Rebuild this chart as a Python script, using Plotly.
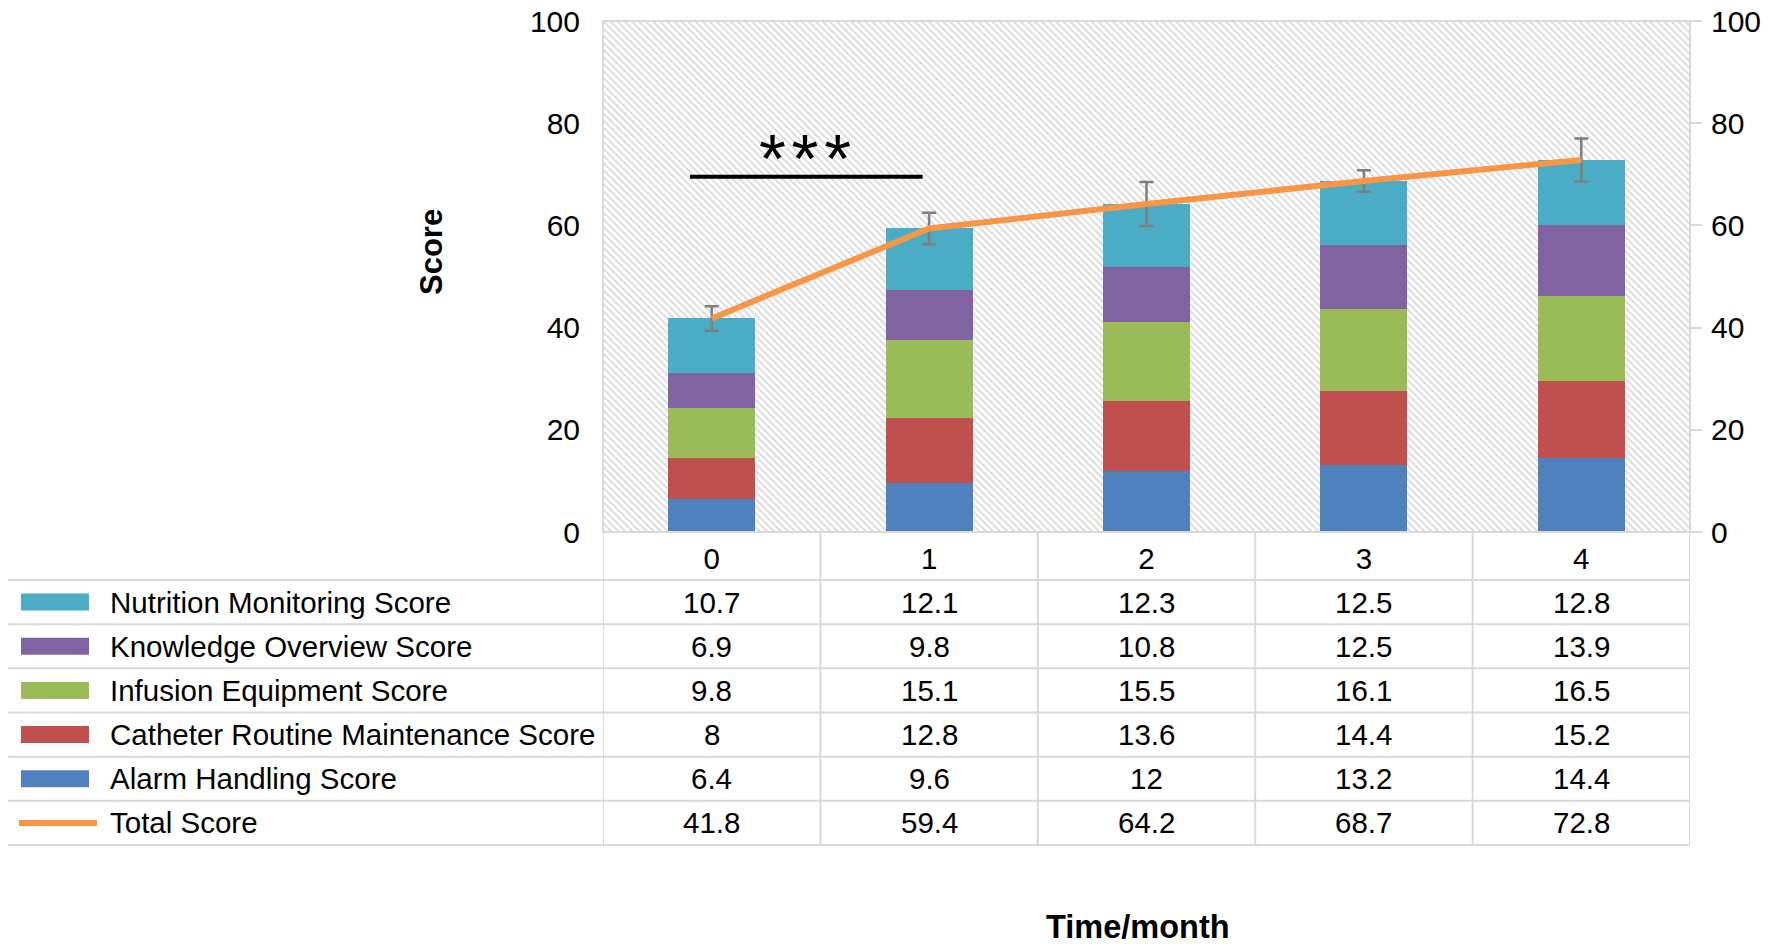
import plotly.graph_objs as go

# datos del gráfico
months = [0, 1, 2, 3, 4]
alarm = [6.4, 9.6, 12, 13.2, 14.4]
catheter = [8, 12.8, 13.6, 14.4, 15.2]
infusion = [9.8, 15.1, 15.5, 16.1, 16.5]
knowledge = [6.9, 9.8, 10.8, 12.5, 13.9]
nutrition = [10.7, 12.1, 12.3, 12.5, 12.8]
total = [41.8, 59.4, 64.2, 68.7, 72.8]
total_err = [2.4, 3.1, 4.3, 2.1, 4.2]
y_ticks = [0, 20, 40, 60, 80, 100]

# la página tiene 8 px de margen en el body: la figura cabe justo en la ventana
OFF = 8
W, H = 1772 - OFF, 944 - OFF
FONT = 'Arial, Liberation Sans, sans-serif'
GRID = '#d9d9d9'
TXT = 29.5

def px(x):
    return (x - OFF) / W

def py(y):
    return 1 - (y - OFF) / H

# series: nombre, valores, color (orden de la tabla, de arriba a abajo)
rows = [
    ('Nutrition Monitoring Score', nutrition, '#4bacc6'),
    ('Knowledge Overview Score', knowledge, '#8064a2'),
    ('Infusion Equipment Score', infusion, '#9bbb59'),
    ('Catheter Routine Maintenance Score', catheter, '#c0504d'),
    ('Alarm Handling Score', alarm, '#4f81bd'),
    ('Total Score', total, '#f79646'),
]

x_lo, x_hi = months[0] - 0.5, months[-1] + 0.5

fig = go.Figure()

# fondo rayado del área de trazado (subplot principal, debajo)
fig.add_trace(go.Scatter(
    x=[x_lo, x_hi, x_hi, x_lo, x_lo], y=[0, 0, 100, 100, 0],
    mode='none', fill='toself', fillcolor='white',
    fillpattern=dict(shape='\\', fgcolor='#b5b5b5', bgcolor='white', size=5, solidity=0.38),
    hoverinfo='skip', showlegend=False,
))

# barras apiladas (de abajo hacia arriba) en el eje superpuesto
for name, vals, color in reversed(rows[:-1]):
    fig.add_trace(go.Bar(
        x=months, y=vals, name=name, marker_color=color,
        marker_line_width=0, width=0.4, showlegend=False, yaxis='y2',
    ))

fig.add_trace(go.Scatter(
    x=months, y=total, name='Total Score', mode='lines',
    line=dict(color='#f79646', width=6),
    error_y=dict(type='data', array=total_err, color='#7f7f7f', thickness=2.5, width=7),
    yaxis='y2', showlegend=False,
))

dom_x = [px(603), px(1690)]
dom_y = [py(532), py(21)]

fig.update_layout(
    width=W, height=H, autosize=False,
    margin=dict(l=0, r=0, t=0, b=0, autoexpand=False),
    paper_bgcolor='white', plot_bgcolor='white',
    barmode='stack',
    font=dict(family=FONT, color='black'),
    xaxis=dict(
        domain=dom_x, range=[x_lo, x_hi], tickvals=months,
        ticktext=[str(m) for m in months], showgrid=False, zeroline=False,
        showline=False, ticks='', tickfont=dict(size=TXT), ticklabelstandoff=6,
    ),
    yaxis=dict(
        domain=dom_y, range=[0, 100], tickvals=y_ticks, showgrid=False,
        zeroline=False, showline=False, ticks='', tickfont=dict(size=30),
        ticklabelstandoff=22, ticklabeloverflow='allow',
    ),
    yaxis2=dict(
        overlaying='y', side='right', range=[0, 100], tickvals=y_ticks,
        showgrid=False, zeroline=False, showline=False, ticks='outside',
        ticklen=11, tickwidth=2, tickcolor=GRID, tickfont=dict(size=30),
        ticklabelstandoff=3, ticklabeloverflow='allow',
    ),
)

shapes = []
# borde del área de trazado
shapes.append(dict(type='rect', xref='x domain', yref='y domain', x0=0, x1=1, y0=0, y1=1,
                   line=dict(color=GRID, width=2), layer='above'))
# significancia
shapes.append(dict(type='line', xref='x', yref='y', x0=-0.1, x1=0.97, y0=69.5, y1=69.5,
                   line=dict(color='black', width=4)))

# tabla de datos
TABLE_TOP = 580
ROW_H = (845 - 580) / len(rows)
TABLE_L = 7
for i in range(len(rows) + 1):
    y = py(TABLE_TOP + i * ROW_H)
    shapes.append(dict(type='line', xref='paper', yref='paper', x0=px(TABLE_L), x1=dom_x[1],
                       y0=y, y1=y, line=dict(color=GRID, width=2)))
shapes.append(dict(type='line', xref='paper', yref='paper', x0=px(TABLE_L), x1=px(TABLE_L),
                   y0=py(TABLE_TOP), y1=py(845), line=dict(color=GRID, width=2)))
for k in range(len(months) + 1):
    xb = x_lo + k
    shapes.append(dict(type='line', xref='x', yref='paper', x0=xb, x1=xb,
                       y0=py(532), y1=py(845), line=dict(color=GRID, width=2)))

annotations = []
for i, (name, vals, color) in enumerate(rows):
    yc = TABLE_TOP + (i + 0.5) * ROW_H
    if name == 'Total Score':
        shapes.append(dict(type='line', xref='paper', yref='paper', x0=px(19), x1=px(97),
                           y0=py(yc), y1=py(yc), line=dict(color=color, width=6)))
    else:
        shapes.append(dict(type='rect', xref='paper', yref='paper', x0=px(21), x1=px(89),
                           y0=py(yc + 8.5), y1=py(yc - 8.5), fillcolor=color,
                           line=dict(width=0)))
    annotations.append(dict(xref='paper', yref='paper', x=px(108), y=py(yc), text=name,
                            showarrow=False, xanchor='left', yanchor='middle',
                            font=dict(size=TXT)))
    for m, v in zip(months, vals):
        annotations.append(dict(xref='x', yref='paper', x=m, y=py(yc), text=f'{v:g}',
                                showarrow=False, xanchor='center', yanchor='middle',
                                font=dict(size=TXT)))

annotations.append(dict(xref='x', yref='y', x=0.43, y=73.1, text='*\u200a*\u200a*',
                        showarrow=False, xanchor='center', yanchor='middle',
                        font=dict(size=69)))
annotations.append(dict(xref='paper', yref='paper', x=px(432), y=py(252), text='<b>Score</b>',
                        textangle=-90, showarrow=False, xanchor='center', yanchor='middle',
                        font=dict(size=31)))
annotations.append(dict(xref='paper', yref='paper', x=px(1138), y=py(927), text='<b>Time/month</b>',
                        showarrow=False, xanchor='center', yanchor='middle',
                        font=dict(size=32.5)))

fig.update_layout(shapes=shapes, annotations=annotations)

fig.write_html("out.html")
